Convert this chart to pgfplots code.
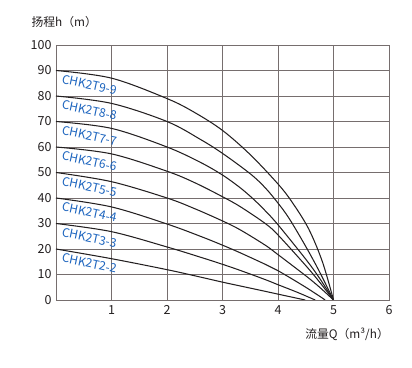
\documentclass[border=0pt]{standalone}
\usepackage{pgfplots}
\pgfplotsset{compat=1.18}
\usepackage{fontspec}
\setmainfont{Noto Sans CJK SC}
\definecolor{gridc}{RGB}{118,110,110}
\definecolor{ink}{RGB}{35,31,32}
\definecolor{lblue}{RGB}{28,100,190}
\pgfplotsset{pc/.style={ink, solid, line width=1.05bp, smooth, tension=0.55, mark=none}}
\begin{document}
\begin{tikzpicture}
\begin{axis}[
  at={(0,0)}, anchor=south west,
  scale only axis, width=333bp, height=255bp,
  xmin=0, xmax=6, ymin=0, ymax=100,
  xtick={1,2,3,4,5,6}, ytick={0,10,...,100},
  major tick length=0pt,
  grid=major,
  major grid style={gridc, line width=0.9bp},
  axis line style={gridc, line width=0.9bp},
  tick label style={font=\fontsize{12.5bp}{14bp}\selectfont, text=ink},
  /pgf/number format/assume math mode=true,
  xticklabel style={yshift=-2bp},
  yticklabel style={xshift=-1bp},
  every axis y label/.style={at={(axis description cs:-0.084,1.09)}, anchor=west},
  every axis x label/.style={at={(axis description cs:1.01,-0.133)}, anchor=east},
  label style={font=\fontsize{11.8bp}{13bp}\selectfont, text=ink},
  xlabel={流量Q（m³/h）},
  ylabel={扬程h（m）},
  clip=true,
]
% CHK2T9-9
\addplot[pc] coordinates {(0,90) (1,87) (2,79) (2.5,73.5) (3,66.5) (3.5,57) (4,45.5) (4.25,38.5) (4.55,28) (4.8,15) (5,0)};
% CHK2T8-8
\addplot[pc] coordinates {(0,80) (1,77.1) (2,70) (2.6,63) (3,57.5) (3.5,49.5) (3.77,44) (4,38) (4.2,32) (4.5,21) (4.75,11) (5,0)};
% CHK2T7-7
\addplot[pc] coordinates {(0,70) (1,67.3) (2,60) (2.6,54) (3,49) (3.32,44) (3.56,39.5) (3.77,35) (4,29.5) (4.5,16) (4.75,8.5) (5,0)};
% CHK2T6-6
\addplot[pc] coordinates {(0,60) (1,57.3) (2,50.5) (2.5,46) (3,40.5) (3.32,36.6) (3.77,30) (4,25.5) (4.5,13.5) (4.75,7) (5,0)};
% CHK2T5-5
\addplot[pc] coordinates {(0,50) (1,46.4) (2,40) (2.5,35.8) (3,31) (3.32,27.5) (3.77,21.5) (4,17.8) (4.5,9.5) (4.75,5) (5,0)};
% CHK2T4-4
\addplot[pc] coordinates {(0,40) (1,36.5) (2,29.8) (2.6,25) (3,21.5) (3.32,18.5) (3.77,14) (4,11.5) (4.5,5) (4.85,0)};
% CHK2T3-3
\addplot[pc] coordinates {(0,30) (1,26.8) (2,20.8) (2.6,16.8) (3,14) (3.32,11.6) (3.77,8) (4,6) (4.35,3) (4.67,0)};
% CHK2T2-2
\addplot[pc] coordinates {(0,20) (1,16.2) (2,11.9) (2.6,9) (3,7) (3.32,5.5) (3.77,3.4) (4,2.3) (4.49,0)};
\begin{scope}[every node/.style={text=lblue, font=\fontsize{12bp}{14bp}\selectfont, rotate=-12, inner sep=0pt}]
\node at (axis cs:0.6,84.4) {CHK2T9-9};
\node at (axis cs:0.6,74.4) {CHK2T8-8};
\node at (axis cs:0.6,64.4) {CHK2T7-7};
\node at (axis cs:0.6,54.4) {CHK2T6-6};
\node at (axis cs:0.6,44.4) {CHK2T5-5};
\node at (axis cs:0.6,34.4) {CHK2T4-4};
\node at (axis cs:0.6,24.4) {CHK2T3-3};
\node at (axis cs:0.6,14.4) {CHK2T2-2};
\end{scope}
\end{axis}
\pgfresetboundingbox
\useasboundingbox (-56bp,-68bp) rectangle (356bp,300bp);
\end{tikzpicture}
\end{document}
